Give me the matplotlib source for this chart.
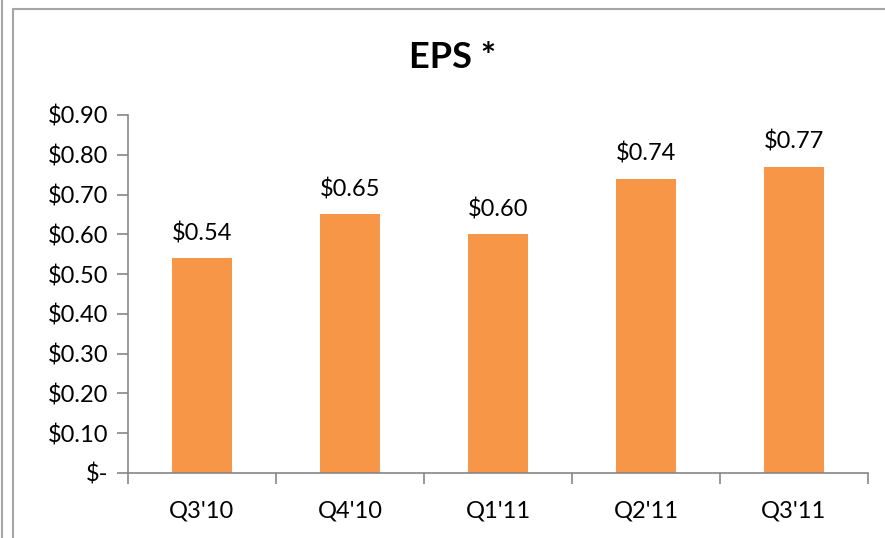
import matplotlib
matplotlib.use("Agg")
import matplotlib.pyplot as plt
from matplotlib.patches import Rectangle
from matplotlib.lines import Line2D

quarters = ["Q3'10", "Q4'10", "Q1'11", "Q2'11", "Q3'11"]
eps = [0.54, 0.65, 0.60, 0.74, 0.77]
yticks = [0.0, 0.1, 0.2, 0.3, 0.4, 0.5, 0.6, 0.7, 0.8, 0.9]
ytick_labels = ["$-", "$0.10", "$0.20", "$0.30", "$0.40", "$0.50",
                "$0.60", "$0.70", "$0.80", "$0.90"]

plt.rcParams['font.family'] = ['Lato', 'DejaVu Sans']
bar_color = "#F79646"
axis_color = "#868686"

fig = plt.figure(figsize=(8.85, 5.38), dpi=100)
W, H = 885, 538

# chart frame
fig.add_artist(Rectangle((13 / W, -0.1), 1.0, 1 - 9 / H + 0.1, transform=fig.transFigure,
                         fill=False, edgecolor="#A6A6A6", linewidth=1.5))
fig.add_artist(Line2D([1.5 / W, 1.5 / W], [0, 1], transform=fig.transFigure,
                      color="#A6A6A6", linewidth=1.5))

ax = fig.add_axes([128 / W, 1 - 473 / H, (868 - 128) / W, (473 - 115) / H])
x = list(range(len(quarters)))
ax.bar(x, eps, width=0.4, color=bar_color)
for xi, v in zip(x, eps):
    ax.text(xi, v + 0.035, f"${v:.2f}", ha="center", va="bottom", fontsize=17)

ax.set_xlim(-0.5, len(quarters) - 0.5)
ax.set_ylim(0, 0.9)
ax.set_yticks(yticks)
ax.set_yticklabels(ytick_labels, fontsize=17)
ax.set_xticks(x)
ax.set_xticklabels(quarters, fontsize=17)
ax.tick_params(axis="x", length=0, pad=20)
ax.set_xticks([i - 0.5 for i in range(len(quarters) + 1)], minor=True)
ax.tick_params(axis="x", which="minor", length=8, color=axis_color, width=1.2)
ax.tick_params(axis="y", length=8, color=axis_color, width=1.2, pad=6)
for s in ["top", "right"]:
    ax.spines[s].set_visible(False)
for s in ["left", "bottom"]:
    ax.spines[s].set_color(axis_color)
    ax.spines[s].set_linewidth(1.2)

fig.text(453 / W, 1 - 58 / H, "EPS *", ha="center", va="center",
         fontsize=26, fontweight="bold")

fig.savefig("out.png", dpi=100)
